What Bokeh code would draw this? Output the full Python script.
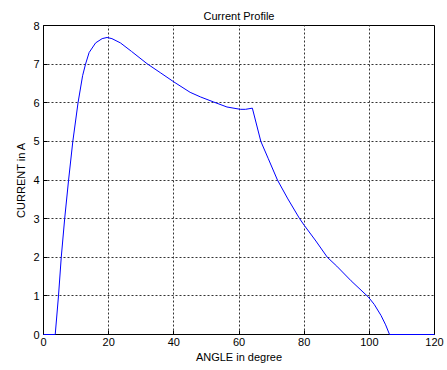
from bokeh.plotting import figure
from bokeh.models import Range1d, FixedTicker
from bokeh.embed import file_html
from bokeh.resources import INLINE

# Data
angle = [0, 3.6, 4.6, 5.45, 6.5, 7.7, 9.0, 10.6, 12.0, 12.9, 14.0, 16.0, 18.0, 19.5,
         21.0, 23.6, 27.0, 31.8, 36.0, 40.0, 45.0, 48.2, 52.2, 56.3, 60.4, 62.0, 64.1,
         66.7, 69.0, 71.8, 75.0, 78.6, 80.0, 83.6, 87.1, 90.0, 94.4, 99.7,
         101.5, 103.6, 105.0, 106.2, 120.0]
current = [0, 0, 1.0, 2.0, 3.0, 4.0, 5.0, 6.0, 6.7, 7.0, 7.3, 7.55, 7.66, 7.69,
           7.66, 7.55, 7.33, 7.01, 6.77, 6.54, 6.27, 6.15, 6.02, 5.89, 5.83, 5.83, 5.86,
           5.0, 4.55, 4.0, 3.51, 3.0, 2.83, 2.42, 2.0, 1.77, 1.39, 0.97,
           0.78, 0.49, 0.25, 0.0, 0.0]

x_ticks = [0, 20, 40, 60, 80, 100, 120]
y_ticks = [0, 1, 2, 3, 4, 5, 6, 7, 8]

FONT = "Liberation Sans"

p = figure(width=447, height=370, output_backend="svg", toolbar_location=None,
           title="Current Profile",
           x_range=Range1d(0, 120), y_range=Range1d(0, 8),
           min_border_left=43, min_border_right=13, min_border_top=25, min_border_bottom=36)

p.title.align = "center"
p.title.text_font = FONT
p.title.text_font_size = "11px"
p.title.text_font_style = "normal"
p.title.text_color = "#000000"
p.title.standoff = 7

p.background_fill_color = "white"
p.border_fill_color = "white"
p.outline_line_color = "black"
p.outline_line_width = 1

for ax in (p.xaxis[0], p.yaxis[0]):
    ax.axis_line_color = "black"
    ax.major_tick_in = 4
    ax.major_tick_out = 0
    ax.minor_tick_line_color = None
    ax.major_label_text_font = FONT
    ax.major_label_text_font_size = "11px"
    ax.major_label_text_color = "black"
    ax.axis_label_text_font = FONT
    ax.axis_label_text_font_size = "11px"
    ax.axis_label_text_font_style = "normal"
    ax.axis_label_text_color = "black"

p.xaxis.ticker = FixedTicker(ticks=x_ticks)
p.yaxis.ticker = FixedTicker(ticks=y_ticks)
p.xaxis.axis_label = "ANGLE in degree"
p.yaxis.axis_label = "CURRENT in A"
p.xaxis.major_label_standoff = 3
p.yaxis.major_label_standoff = 4
p.xaxis.axis_label_standoff = 2
p.yaxis.axis_label_standoff = 3

for g in (p.xgrid[0], p.ygrid[0]):
    g.grid_line_color = "#333333"
    g.grid_line_dash = "2 2"
    g.grid_line_width = 1

r = p.line(angle, current, line_color="#0000ff", line_width=1)
r.level = "overlay"

open("out.html", "w").write(file_html(p, INLINE))
